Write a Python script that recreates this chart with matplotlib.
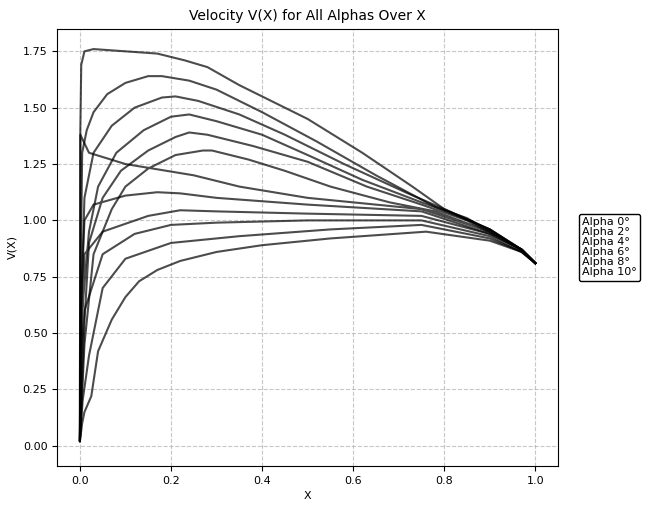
import matplotlib
matplotlib.use("Agg")
import matplotlib.pyplot as plt
import numpy as np

alphas = [0, 2, 4, 6, 8, 10]
# upper surface (x from LE to TE)
upper_x = [
    [0.0, 0.01, 0.03, 0.07, 0.10, 0.15, 0.21, 0.27, 0.29, 0.37, 0.45, 0.55, 0.68, 0.78, 0.90, 0.97, 1.0],
    [0.0, 0.01, 0.02, 0.05, 0.09, 0.15, 0.21, 0.24, 0.28, 0.38, 0.50, 0.63, 0.75, 0.85, 0.97, 1.0],
    [0.0, 0.005, 0.02, 0.04, 0.08, 0.14, 0.20, 0.24, 0.30, 0.40, 0.50, 0.62, 0.75, 0.85, 0.97, 1.0],
    [0.0, 0.004, 0.01, 0.03, 0.07, 0.12, 0.18, 0.21, 0.26, 0.35, 0.45, 0.58, 0.72, 0.80, 0.90, 0.97, 1.0],
    [0.0, 0.002, 0.005, 0.015, 0.03, 0.06, 0.10, 0.15, 0.18, 0.24, 0.30, 0.40, 0.52, 0.65, 0.78, 0.90, 0.97, 1.0],
    [0.0, 0.001, 0.003, 0.01, 0.03, 0.10, 0.17, 0.23, 0.28, 0.35, 0.50, 0.62, 0.73, 0.80, 0.90, 0.97, 1.0],
]
upper_v = [
    [0.02, 0.45, 0.85, 1.05, 1.15, 1.23, 1.29, 1.31, 1.31, 1.27, 1.22, 1.15, 1.08, 1.04, 0.95, 0.87, 0.81],
    [0.02, 0.55, 0.90, 1.10, 1.22, 1.31, 1.37, 1.39, 1.38, 1.33, 1.26, 1.15, 1.07, 1.00, 0.87, 0.81],
    [0.02, 0.60, 0.95, 1.15, 1.30, 1.40, 1.46, 1.47, 1.44, 1.38, 1.29, 1.18, 1.08, 1.01, 0.87, 0.81],
    [0.02, 0.70, 1.10, 1.30, 1.42, 1.50, 1.545, 1.55, 1.53, 1.47, 1.38, 1.25, 1.12, 1.05, 0.96, 0.87, 0.81],
    [0.02, 0.80, 1.30, 1.40, 1.48, 1.56, 1.61, 1.64, 1.64, 1.62, 1.58, 1.48, 1.35, 1.20, 1.06, 0.96, 0.87, 0.81],
    [0.02, 1.40, 1.69, 1.75, 1.76, 1.75, 1.74, 1.71, 1.68, 1.60, 1.45, 1.30, 1.15, 1.05, 0.96, 0.87, 0.81],
]
# lower surface (x from LE to TE)
lower_x = [
    [0.0, 0.001, 0.02, 0.10, 0.25, 0.35, 0.50, 0.75, 0.90, 0.97, 1.0],
    [0.0, 0.002, 0.01, 0.03, 0.10, 0.17, 0.22, 0.30, 0.50, 0.75, 0.90, 0.97, 1.0],
    [0.0, 0.003, 0.01, 0.05, 0.15, 0.22, 0.30, 0.50, 0.75, 0.90, 0.97, 1.0],
    [0.0, 0.004, 0.01, 0.05, 0.12, 0.20, 0.30, 0.50, 0.75, 0.90, 0.97, 1.0],
    [0.0, 0.006, 0.02, 0.05, 0.10, 0.20, 0.35, 0.55, 0.75, 0.90, 0.97, 1.0],
    [0.0, 0.005, 0.01, 0.025, 0.04, 0.07, 0.10, 0.13, 0.17, 0.22, 0.30, 0.40, 0.55, 0.76, 0.90, 0.97, 1.0],
]
lower_v = [
    [0.02, 1.38, 1.30, 1.25, 1.20, 1.15, 1.10, 1.05, 0.95, 0.87, 0.81],
    [0.02, 0.60, 1.00, 1.07, 1.11, 1.125, 1.12, 1.10, 1.07, 1.04, 0.94, 0.87, 0.81],
    [0.02, 0.50, 0.85, 0.95, 1.02, 1.045, 1.04, 1.03, 1.02, 0.94, 0.87, 0.81],
    [0.02, 0.40, 0.60, 0.85, 0.94, 0.98, 0.99, 1.00, 1.00, 0.93, 0.86, 0.81],
    [0.02, 0.20, 0.40, 0.70, 0.83, 0.90, 0.93, 0.96, 0.98, 0.92, 0.86, 0.81],
    [0.02, 0.10, 0.15, 0.22, 0.42, 0.56, 0.66, 0.73, 0.78, 0.82, 0.86, 0.89, 0.92, 0.95, 0.91, 0.86, 0.81],
]

fig = plt.figure(figsize=(6.49, 5.05), dpi=100)
ax = fig.add_axes([0.088, 0.077, 0.772, 0.866])
for a, ux, uv, lx, lv in zip(alphas, upper_x, upper_v, lower_x, lower_v):
    x = ux[::-1] + lx[1:]
    v = uv[::-1] + lv[1:]
    ax.plot(x, v, color='black', alpha=0.7, lw=1.5, label=f'Alpha {a}°')
ax.set_xlim(-0.05, 1.05)
ax.set_ylim(-0.09, 1.85)
ax.set_title('Velocity V(X) for All Alphas Over X', fontsize=10)
ax.set_xlabel('X', fontsize=8)
ax.set_ylabel('V(X)', fontsize=8)
ax.tick_params(labelsize=8)
ax.grid(True, linestyle='--', alpha=0.7)
leg = ax.legend(loc='center left', bbox_to_anchor=(1.03, 0.5), fontsize=8,
                handlelength=0, handletextpad=0, labelspacing=0,
                borderpad=0.3, framealpha=1, edgecolor='black', fancybox=True)
for h in leg.legend_handles:
    h.set_visible(False)
fig.savefig('out.png', dpi=100)
